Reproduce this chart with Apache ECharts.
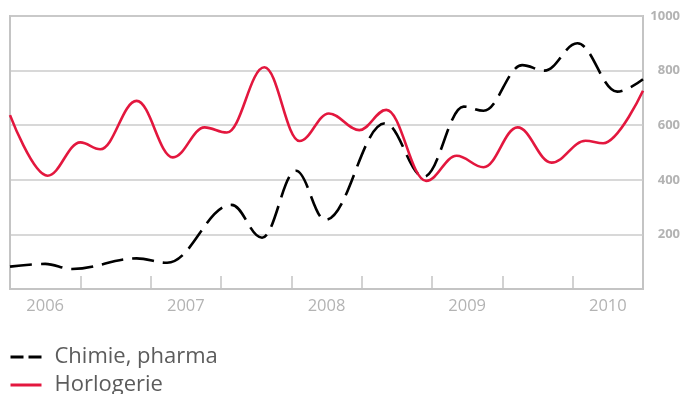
<!DOCTYPE html>
<html>
<head>
<meta charset="utf-8">
<script src="https://cdn.jsdelivr.net/npm/echarts@6/dist/echarts.min.js"></script>
<style>
html,body{margin:0;padding:0;background:#fff;}
#c{width:685px;height:394px;}
</style>
</head>
<body>
<div id="c"></div>
<script>
// Months counted from the left edge of the axis (0 .. 54)
const chimieMonths = [0, 3.0, 5.3, 10.8, 13.4, 18.9, 21.5, 24.4, 26.9, 32.0, 35.3, 38.7, 40.4, 43.7, 45.6, 48.4, 51.8, 54];
const chimieValues = [82, 92, 73, 112, 96, 308, 188, 433, 253, 607, 411, 668, 653, 820, 800, 900, 723, 768];

const horloMonths = [0, 3.2, 6.0, 7.7, 10.8, 13.9, 16.6, 18.5, 21.7, 24.7, 27.2, 29.8, 32.1, 35.5, 38.1, 40.4, 43.3, 46.2, 49.1, 50.6, 54];
const horloValues = [637, 415, 537, 512, 689, 482, 592, 573, 812, 542, 643, 582, 656, 396, 488, 446, 592, 463, 543, 534, 726];

const yearLabels = ['2006', '2007', '2008', '2009', '2010'];
const yearLabelMonths = [3, 15, 27, 39, 51];

const seriesNames = ['Chimie, pharma', 'Horlogerie'];

const FONT = "'Open Sans', 'Noto Sans', sans-serif";
const GRID_COL = '#cbcbcb';
const AXIS_COL = '#c4c4c4';

function pairs(xs, ys) { return xs.map((x, i) => [x, ys[i]]); }

const chart = echarts.init(document.getElementById('c'), null, {renderer: 'canvas'});
chart.setOption({
  animation: false,
  backgroundColor: '#fff',
  grid: {left: 10, right: 42, top: 16, bottom: 105, show: true, borderColor: AXIS_COL, borderWidth: 2, backgroundColor: 'transparent'},
  legend: {
    orient: 'vertical',
    left: 9,
    top: 346,
    height: 60,
    padding: 0,
    itemWidth: 31,
    itemHeight: 14,
    itemGap: 6,
    selectedMode: false,
    textStyle: {fontSize: 22, lineHeight: 22, color: '#5c5c5c', fontFamily: FONT, padding: [0, 0, 0, 8]},
    data: [
      {name: seriesNames[0], itemStyle: {opacity: 0}, lineStyle: {type: [13, 5], width: 3, color: '#000'}},
      {name: seriesNames[1], itemStyle: {opacity: 0}, lineStyle: {type: 'solid', width: 3, color: '#e3173e'}}
    ]
  },
  xAxis: [
    {
      type: 'value', min: 0, max: 54, interval: 6,
      axisLine: {show: true, lineStyle: {color: AXIS_COL, width: 2}},
      axisTick: {show: true, inside: true, length: 13, lineStyle: {color: AXIS_COL, width: 1.5}},
      axisLabel: {show: false},
      splitLine: {show: false}
    },
    {
      type: 'value', min: 0, max: 54, interval: 3, position: 'bottom',
      axisLine: {show: false},
      axisTick: {show: false},
      splitLine: {show: false},
      axisLabel: {
        show: true, margin: 9, fontSize: 16.5, color: '#b3b3b3', fontFamily: FONT,
        formatter: function (v) {
          const k = yearLabelMonths.indexOf(Math.round(v));
          return k >= 0 ? yearLabels[k] : '';
        }
      }
    }
  ],
  yAxis: {
    type: 'value', position: 'right', min: 0, max: 1000, interval: 200,
    axisLine: {show: true, lineStyle: {color: AXIS_COL, width: 2}},
    axisTick: {show: false},
    splitLine: {show: true, lineStyle: {color: GRID_COL, width: 1.5}},
    axisLabel: {
      showMinLabel: false, align: 'right', margin: 37,
      fontSize: 13, fontWeight: 'bold', color: '#b3b3b3', fontFamily: FONT,
      formatter: function (v) { return String(v); }
    }
  },
  series: [
    {
      name: seriesNames[0], type: 'line', xAxisIndex: 0,
      data: pairs(chimieMonths, chimieValues),
      smooth: 0.38, smoothMonotone: 'x',
      symbol: 'none',
      lineStyle: {color: '#000', width: 2.6, type: [22, 9]},
      itemStyle: {color: '#000'},
      z: 3
    },
    {
      name: seriesNames[1], type: 'line', xAxisIndex: 0,
      data: pairs(horloMonths, horloValues),
      smooth: 0.38, smoothMonotone: 'x',
      symbol: 'none',
      lineStyle: {color: '#e3173e', width: 2.6},
      itemStyle: {color: '#e3173e'},
      z: 4
    }
  ]
});
</script>
</body>
</html>
